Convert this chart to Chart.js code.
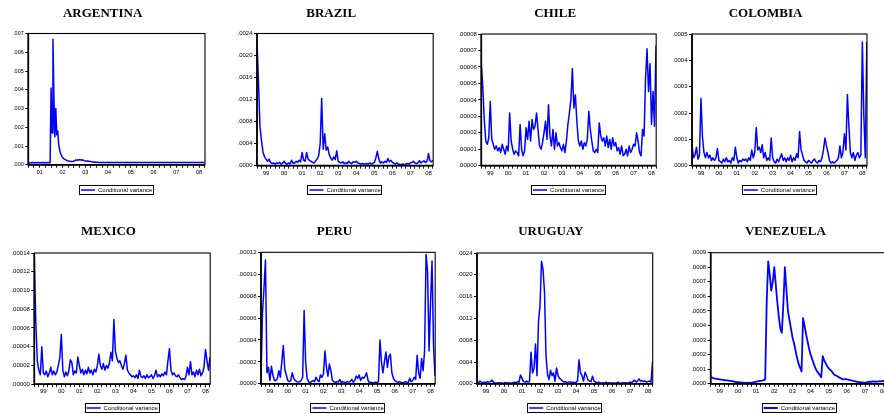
<!DOCTYPE html>
<html><head><meta charset="utf-8">
<script src="https://cdn.jsdelivr.net/npm/chart.js@4.4.0/dist/chart.umd.min.js"></script>
<style>
html,body{margin:0;padding:0;background:#fff;width:884px;height:414px;overflow:hidden;position:relative}
canvas{position:absolute}
</style></head><body>
<script>
// ---------- categories / labels ----------
const yearLabels = ['99','00','01','02','03','04','05','06','07','08'];
const firstLabelYear = 1999;
const legendLabel = 'Conditional variance';
const titles = ['ARGENTINA','BRAZIL','CHILE','COLOMBIA','MEXICO','PERU','URUGUAY','VENEZUELA'];

// ---------- y tick labels ----------
const argentinaTicks = ['.000','.001','.002','.003','.004','.005','.006','.007'];
const brazilTicks = ['.0000','.0004','.0008','.0012','.0016','.0020','.0024'];
const chileTicks = ['.00000','.00001','.00002','.00003','.00004','.00005','.00006','.00007','.00008'];
const colombiaTicks = ['.0000','.0001','.0002','.0003','.0004','.0005'];
const mexicoTicks = ['.00000','.00002','.00004','.00006','.00008','.00010','.00012','.00014'];
const peruTicks = ['.00000','.00002','.00004','.00006','.00008','.00010','.00012'];
const uruguayTicks = ['.0000','.0004','.0008','.0012','.0016','.0020','.0024'];
const venezuelaTicks = ['.0000','.0001','.0002','.0003','.0004','.0005','.0006','.0007','.0008','.0009'];

// ---------- sampling of each series (start year, step in years) ----------
const argentinaStart = 2001, argentinaStep = 1/24, argentinaUnit = 1e-3;
const monthlyStart = 1999, monthlyStep = 1/12;
const brazilUnit = 1e-4, chileUnit = 1e-5, colombiaUnit = 1e-4, mexicoUnit = 1e-5;
const peruUnit = 1e-5, uruguayUnit = 1e-4, venezuelaUnit = 1e-4;
const axisStartMonthly = 1999.0, axisStartArgentina = 2001.0, axisEnd = 2008.76;

// ---------- series values (in the unit given above) ----------
const argentina = [
 0.05,0.10,0.11,0.11,0.12,0.11,0.12,0.11,0.11,0.12,0.11,0.12,0.11,0.11,0.12,0.11,0.12,0.11,0.11,0.12,0.11,0.12,0.11,0.12,
 4.1,1.7,6.7,3.6,1.5,3.0,1.6,1.8,1.1,0.8,0.6,0.5,0.4,0.35,0.3,0.28,0.25,0.22,0.2,0.2,0.18,0.18,0.17,0.18,
 0.2,0.22,0.25,0.24,0.27,0.25,0.28,0.26,0.27,0.24,0.25,0.22,0.2,0.21,0.19,0.2,0.18,0.19,0.17,0.16,0.15,0.14,0.15,0.13,
 0.13,0.14,0.13,0.12,0.13,0.12,0.13,0.12,0.12,0.13,0.12,0.13,0.12,0.12,0.13,0.12,0.13,0.12,0.12,0.13,0.12,0.12,0.13,0.12,
 0.12,0.13,0.12,0.12,0.13,0.12,0.12,0.13,0.12,0.12,0.12,0.13,0.12,0.12,0.13,0.12,0.12,0.13,0.12,0.12,0.12,0.13,0.12,0.12,
 0.12,0.12,0.13,0.12,0.12,0.12,0.13,0.12,0.12,0.12,0.12,0.13,0.12,0.12,0.12,0.13,0.12,0.12,0.12,0.12,0.13,0.12,0.12,0.12,
 0.12,0.12,0.12,0.13,0.12,0.12,0.12,0.12,0.12,0.13,0.12,0.12,0.12,0.12,0.13,0.12,0.12,0.12,0.13,0.12,0.12,0.12,0.13,0.12,
 0.12,0.13,0.12,0.12,0.13,0.12,0.12,0.13,0.12,0.13,0.12,0.12,0.13,0.12,0.13,0.12,0.13,0.12,0.13
];
const brazil = [
 22.5,15,7,4.5,2.5,1.6,1.2,0.8,1.2,0.6,0.4,0.5,
 0.3,0.5,0.4,0.6,0.3,0.5,0.8,0.4,0.3,0.5,0.3,1.0,
 0.4,0.5,0.8,0.6,1.0,0.7,2.4,1.0,0.8,2.4,1.2,0.9,
 0.8,0.6,0.5,0.9,1.2,1.8,4.0,12.2,3.0,5.8,2.8,3.4,
 2.0,1.4,1.0,1.6,1.1,2.7,0.8,0.6,0.5,0.7,0.4,0.5,
 0.4,0.8,0.5,0.4,0.7,0.6,0.8,0.5,0.4,0.3,0.4,0.3,
 0.3,0.4,0.3,0.5,0.3,0.4,0.6,1.4,2.6,1.2,0.5,0.7,
 0.5,0.8,0.6,1.3,0.7,1.0,0.6,0.4,0.3,0.5,0.3,0.2,
 0.2,0.3,0.2,0.3,0.4,0.3,0.5,0.6,0.8,0.5,0.4,0.5,
 0.9,0.5,0.7,0.9,0.6,0.8,2.2,0.9,0.7,1.0
];
const chile = [
 6.2,4.8,2.8,1.5,1.3,1.7,3.9,1.6,1.3,1.0,1.2,0.9,
 1.1,0.8,1.3,1.0,0.7,1.2,0.9,3.2,1.5,1.0,0.7,0.9,
 0.8,0.6,2.5,1.0,0.6,0.9,2.3,1.6,2.7,1.5,2.8,2.2,
 2.4,3.2,2.2,1.2,1.0,1.4,2.0,2.7,1.6,3.7,1.8,1.2,
 2.2,1.0,2.0,1.2,1.4,1.1,0.9,1.3,0.8,1.5,2.5,3.2,
 4.0,5.9,3.5,4.3,2.7,1.5,1.2,1.5,1.0,1.4,1.2,1.6,
 3.3,2.2,1.5,0.9,0.8,1.0,0.8,2.6,1.8,1.5,1.7,1.2,
 1.8,1.1,1.6,1.0,1.7,1.2,1.4,0.9,1.1,0.7,1.2,0.6,
 0.7,1.0,0.6,1.2,0.8,1.0,1.3,1.2,2.0,1.5,0.8,0.6,
 2.2,1.8,5.3,7.1,4.5,6.2,2.5,4.5,2.4,7.3
];
const colombia = [
 0.8,0.3,0.4,0.7,0.25,0.4,2.55,1.1,0.5,0.3,0.5,0.3,
 0.4,0.2,0.3,0.2,0.3,0.65,0.2,0.15,0.1,0.25,0.15,0.3,
 0.15,0.2,0.1,0.3,0.2,0.7,0.3,0.1,0.2,0.15,0.25,0.2,
 0.25,0.15,0.3,0.2,0.6,0.3,0.5,1.45,0.6,0.7,0.5,0.8,
 0.3,0.5,0.2,0.3,0.2,1.05,0.3,0.15,0.1,0.25,0.15,0.3,
 0.45,0.2,0.3,0.15,0.3,0.2,0.4,0.15,0.3,0.2,0.45,0.3,
 1.3,0.6,0.4,0.2,0.15,0.1,0.2,0.15,0.1,0.2,0.25,0.15,
 0.1,0.2,0.15,0.3,0.6,1.05,0.75,0.5,0.2,0.1,0.15,0.1,
 0.15,0.2,0.3,0.75,0.3,0.5,1.2,0.6,2.7,1.5,0.5,0.3,
 0.5,0.2,0.4,0.5,0.3,0.4,4.7,1.9,0.3,4.7
];
const mexico = [
 13.5,6.7,2.5,1.5,1.0,4.0,1.2,1.0,1.4,0.8,1.2,1.8,
 1.0,1.4,1.0,1.3,2.0,2.8,5.3,1.5,0.8,1.3,0.9,1.4,
 2.6,2.3,1.0,1.4,1.2,2.9,2.0,1.2,1.6,1.0,1.5,1.1,
 1.8,1.2,1.5,1.0,1.6,1.3,2.0,3.2,2.0,1.6,2.2,1.5,
 2.0,1.7,2.2,3.4,2.5,6.9,3.5,2.8,2.3,2.5,2.0,1.6,
 2.2,3.1,1.5,1.2,1.0,0.8,0.9,0.7,1.0,0.6,1.5,0.8,
 0.7,0.9,0.6,1.0,0.7,0.8,1.0,0.6,0.9,1.5,0.8,1.0,
 0.8,1.1,0.9,1.3,1.0,2.5,3.8,1.5,1.0,1.2,0.9,0.8,
 1.0,0.7,0.5,0.6,0.5,0.8,1.8,1.0,2.4,1.0,1.3,0.8,
 1.5,1.0,1.6,0.9,1.2,1.8,3.7,2.5,1.5,2.9
];
const peru = [
 0.5,6.5,8.7,11.3,1.0,1.5,0.3,1.6,0.8,0.3,0.3,0.5,
 1.2,0.6,2.0,3.5,1.3,0.8,0.3,0.2,0.3,1.0,0.5,0.3,
 0.2,0.15,0.2,0.3,0.6,6.7,2.0,0.5,0.2,0.1,0.2,0.3,
 0.2,0.6,0.3,0.2,0.8,0.6,0.9,3.0,1.5,0.7,1.8,1.2,
 0.3,0.2,0.1,0.2,0.15,0.4,0.1,0.2,0.15,0.1,0.2,0.15,
 0.2,0.4,0.15,0.3,0.7,0.5,0.8,0.3,0.6,0.5,0.7,1.0,
 0.3,0.1,0.15,0.1,0.1,0.15,0.1,0.2,4.0,2.0,1.0,2.0,
 2.9,1.5,2.5,2.7,1.0,0.5,0.3,0.2,0.1,0.2,0.15,0.1,
 0.1,0.2,0.15,0.1,0.5,0.2,0.3,0.6,0.4,2.6,1.0,0.5,
 2.3,1.2,3.0,11.8,10.2,3.0,7.3,11.2,3.5,0.7
];
const uruguay = [
 0.3,0.2,0.5,0.3,0.2,0.3,0.2,0.4,0.3,0.4,0.7,0.2,
 0.2,0.1,0.2,0.15,0.2,0.1,0.15,0.25,0.1,0.2,0.15,0.1,
 0.2,0.3,0.15,0.4,0.3,1.6,1.0,0.4,0.3,0.5,0.3,0.4,
 5.8,2.0,2.8,7.3,1.5,11.5,14.3,22.5,21.0,16.8,5.0,1.8,
 0.8,2.5,1.5,2.0,0.5,2.9,1.5,1.0,0.8,0.5,0.3,0.4,
 0.2,0.3,0.4,0.2,0.3,0.2,0.3,0.5,4.4,2.0,1.5,0.5,
 2.1,1.5,0.7,0.5,0.4,1.4,0.5,0.3,0.2,0.3,0.2,0.1,
 0.2,0.1,0.3,0.15,0.2,0.1,0.2,0.15,0.1,0.2,0.3,0.15,
 0.1,0.2,0.15,0.2,0.1,0.2,0.3,0.2,0.4,0.7,0.3,0.5,
 0.9,0.5,0.6,0.4,0.5,0.3,0.4,0.5,0.3,4.0
];
const venezuela = [
 0.45,0.42,0.38,0.36,0.34,0.32,0.3,0.28,0.27,0.26,0.24,0.23,
 0.22,0.2,0.18,0.16,0.14,0.12,0.11,0.1,0.09,0.08,0.07,0.07,
 0.07,0.08,0.07,0.08,0.1,0.12,0.15,0.16,0.18,0.2,0.22,0.25,
 0.3,5.7,8.4,7.5,6.4,7.0,8.0,6.8,5.6,4.6,3.8,3.5,
 5.5,8.0,6.5,5.0,4.4,3.8,3.2,2.8,2.3,1.8,1.4,1.1,
 0.85,4.5,4.0,3.4,2.9,2.4,2.0,1.7,1.4,1.1,0.9,0.75,
 0.6,0.45,1.9,1.6,1.4,1.2,1.05,0.95,0.85,0.7,0.6,0.55,
 0.5,0.42,0.38,0.32,0.3,0.33,0.3,0.28,0.25,0.23,0.2,0.18,
 0.15,0.14,0.12,0.1,0.1,0.08,0.06,0.1,0.14,0.15,0.14,0.16,
 0.15,0.16,0.15,0.17,0.18,0.17,0.2,0.19,0.2,0.22
];

// ---------- series descriptors ----------
const series = [
 {values: argentina, unit: argentinaUnit, start: argentinaStart, step: argentinaStep, ticks: argentinaTicks, xMin: axisStartArgentina},
 {values: brazil, unit: brazilUnit, start: monthlyStart, step: monthlyStep, ticks: brazilTicks, xMin: axisStartMonthly},
 {values: chile, unit: chileUnit, start: monthlyStart, step: monthlyStep, ticks: chileTicks, xMin: axisStartMonthly},
 {values: colombia, unit: colombiaUnit, start: monthlyStart, step: monthlyStep, ticks: colombiaTicks, xMin: axisStartMonthly},
 {values: mexico, unit: mexicoUnit, start: monthlyStart, step: monthlyStep, ticks: mexicoTicks, xMin: axisStartMonthly},
 {values: peru, unit: peruUnit, start: monthlyStart, step: monthlyStep, ticks: peruTicks, xMin: axisStartMonthly},
 {values: uruguay, unit: uruguayUnit, start: monthlyStart, step: monthlyStep, ticks: uruguayTicks, xMin: axisStartMonthly},
 {values: venezuela, unit: venezuelaUnit, start: monthlyStart, step: monthlyStep, ticks: venezuelaTicks, xMin: axisStartMonthly}
];

// ---------- layout (target plot rectangles, title / legend centres) ----------
const layouts = [
 {plot:[28.3,33.5,205,164.8], tcx:105.3, tcy:13.3, lcy:190, fs:5.5},
 {plot:[257,33.5,433.3,165.7], tcx:328.5, tcy:13.3, lcy:190, fs:6},
 {plot:[481.3,34,657,165.7], tcx:554, tcy:13.3, lcy:190, fs:6},
 {plot:[692,34,867,165.7], tcx:790, tcy:13.3, lcy:190, fs:6},
 {plot:[34.3,253,210.7,384.2], tcx:106, tcy:231.3, lcy:408, fs:6},
 {plot:[261,252.3,436,383.8], tcx:328.7, tcy:231.4, lcy:408, fs:6},
 {plot:[477,253,652.7,383.8], tcx:553.7, tcy:231.4, lcy:408, fs:6},
 {plot:[710.7,252.7,888,383.8], tcx:790, tcy:231.4, lcy:408, fs:6}
];

Chart.defaults.font.family = "'Liberation Sans', Arial, sans-serif";
Chart.defaults.color = '#000';

const framePlugin = {
  id: 'frame',
  afterDatasetsDraw(chart) {
    const {ctx, chartArea: a} = chart;
    ctx.save();
    ctx.strokeStyle = '#000';
    ctx.lineWidth = 1.1;
    ctx.strokeRect(a.left, a.top, a.right - a.left, a.bottom - a.top);
    ctx.lineWidth = 1.7;
    ctx.beginPath();
    ctx.moveTo(a.left, a.top); ctx.lineTo(a.left, a.bottom); ctx.lineTo(a.right, a.bottom);
    ctx.stroke();
    ctx.restore();
  },
  afterDraw(chart) {
    const lg = chart.legend;
    if (!lg || !lg.legendHitBoxes || !lg.legendHitBoxes.length) return;
    const hb = lg.legendHitBoxes[0];
    const ctx = chart.ctx;
    ctx.save();
    ctx.strokeStyle = '#000';
    ctx.lineWidth = 1;
    ctx.strokeRect(Math.round(hb.left - 2) + 0.5, Math.round(hb.top - 2) + 0.5, Math.round(hb.width + 3), Math.round(hb.height + 3));
    ctx.restore();
  }
};

const yW = 28, legH = 20, titleSize = 13, titleLH = titleSize * 1.2;

series.forEach((s, k) => {
  const lay = layouts[k];
  const [pl, pt, pr, pb] = lay.plot;
  let L, W;
  if (2 * lay.tcx - pr <= pl - yW) { L = Math.floor(2 * lay.tcx - pr); W = Math.ceil(pr - L); }
  else { L = Math.floor(pl - yW); W = Math.round(2 * (lay.tcx - L)); }
  const padL = pl - yW - L;
  const padR = Math.max(0, L + W - pr);
  const T = Math.floor(lay.tcy - titleLH / 2 - 2);
  const pT = lay.tcy - titleLH / 2 - T;
  const pB = pt - T - pT - titleLH;
  const xH = lay.lcy - pb - 7;
  const H = Math.ceil(pb + xH + legH - T);
  const padB = H - legH - xH - (pb - T);

  const c = document.createElement('canvas');
  c.width = W; c.height = H;
  c.style.left = L + 'px'; c.style.top = T + 'px';
  c.style.width = W + 'px'; c.style.height = H + 'px';
  document.body.appendChild(c);

  const pts = s.values.map((v, i) => ({x: s.start + i * s.step, y: v * s.unit}));
  const tickVals = s.ticks.map(t => parseFloat(t));
  const xMin = s.xMin, xMax = axisEnd;

  new Chart(c, {
    type: 'line',
    data: { datasets: [{
      label: legendLabel, data: pts, borderColor: '#0000ff', backgroundColor: '#0000ff',
      borderWidth: k === 7 ? 1.8 : 1.5, pointRadius: 0, fill: false, tension: 0,
      borderJoinStyle: 'round'
    }]},
    options: {
      responsive: false, animation: false, events: [],
      layout: { padding: { left: padL, right: padR, top: 0, bottom: padB } },
      plugins: {
        title: { display: true, text: titles[k], color: '#000',
          font: { family: "'Liberation Serif', 'Times New Roman', serif", size: titleSize, weight: 'bold', lineHeight: 1.2 },
          padding: { top: pT, bottom: pB } },
        legend: { display: true, position: 'bottom', fullSize: false,
          labels: { usePointStyle: true, pointStyle: 'line', pointStyleWidth: 14, boxHeight: 6,
            font: { size: 6 }, color: '#000', padding: 4 } },
        tooltip: { enabled: false }
      },
      scales: {
        x: { type: 'linear', min: xMin, max: xMax,
          afterBuildTicks: sc => {
            const t = [];
            for (let q = Math.ceil(xMin * 4 - 1e-6); q <= Math.floor(xMax * 4 + 1e-6); q++) t.push({value: q / 4});
            sc.ticks = t;
          },
          ticks: { autoSkip: false, maxRotation: 0, minRotation: 0, padding: 1, color: '#000',
            font: { size: lay.fs },
            callback: v => {
              const f = v - Math.floor(v);
              return Math.abs(f - 0.5) < 1e-6 ? (yearLabels[Math.floor(v) - firstLabelYear] || '') : '';
            } },
          grid: { drawOnChartArea: false, color: '#000', tickLength: 3, tickWidth: 0.9 },
          border: { display: false },
          afterFit: sc => { sc.height = xH; }
        },
        y: { type: 'linear', min: 0, max: tickVals[tickVals.length - 1],
          afterBuildTicks: sc => { sc.ticks = tickVals.map(v => ({value: v})); },
          ticks: { autoSkip: false, padding: 1.5, color: '#000', font: { size: lay.fs },
            callback: (v, i) => s.ticks[i] },
          grid: { drawOnChartArea: false, color: '#000', tickLength: 3, tickWidth: 1 },
          border: { display: false },
          afterFit: sc => { sc.width = yW; }
        }
      }
    },
    plugins: [framePlugin]
  });
});
</script>
</body></html>
